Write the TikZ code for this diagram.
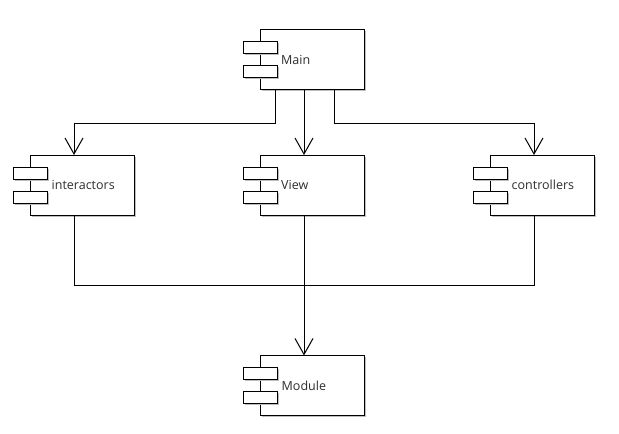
\documentclass[tikz,border=0pt]{standalone}
\usepackage{fontspec}
\setmainfont{Open Sans}
\usetikzlibrary{arrows.meta,calc}

\definecolor{labeltext}{HTML}{2E2E2E}
\definecolor{shade}{HTML}{BDBDBD}

\tikzset{
  comp/.style={minimum width=121pt, minimum height=60pt, inner sep=0pt, outer sep=0pt},
  body/.style={draw=black, fill=white, line width=1pt},
  tab/.style={draw=black, fill=white, line width=1pt},
  shadowbox/.style={fill=shade, draw=none},
  complabel/.style={anchor=west, inner sep=0pt, text=labeltext, font=\fontsize{12.5}{14}\selectfont},
  conn/.style={draw=black, line width=1pt},
  dep/.style={conn, -{Straight Barb[length=16pt, width=18pt, line width=1pt]}},
}

% UML component: box with two tabs on its left side
\newcommand{\umlcomp}[4]{%
  \node[comp] (#1) at (#2,#3) {};
  \fill[shadowbox] ($(#1.north west)+(18.5,1.5)$) rectangle ($(#1.south east)+(1.5,1.5)$);
  \draw[body] ($(#1.north west)+(17,0)$) rectangle (#1.south east);
  \fill[shadowbox] ($(#1.west)+(1.5,-16.5)$) rectangle ($(#1.west)+(35.5,-4.5)$);
  \fill[shadowbox] ($(#1.west)+(1.5,7.5)$) rectangle ($(#1.west)+(35.5,19.5)$);
  \draw[tab] ($(#1.west)+(0,-18)$) rectangle ($(#1.west)+(34,-6)$);
  \draw[tab] ($(#1.west)+(0,6)$) rectangle ($(#1.west)+(34,18)$);
  \node[complabel] (#1-label) at ($(#1.west)+(38,0)$) {#4};
}

\begin{document}
\begin{tikzpicture}[x=1pt, y=-1pt]
  \useasboundingbox[fill=white] (0,0) rectangle (619,434);

  \umlcomp{main}{303.5}{59.5}{Main}
  \umlcomp{interactors}{74}{185}{interactors}
  \umlcomp{view}{303.5}{185}{View}
  \umlcomp{controllers}{534}{185}{controllers}
  \umlcomp{module}{304}{385.5}{Module}

  % dependencies from Main
  \draw[dep] ([xshift=-28.5]main.south) -- ++(0,34) -| (interactors.north);
  \draw[dep] ([xshift=0.5]main.south) -- ([xshift=0.5]view.north);
  \draw[dep] ([xshift=30.5]main.south) -- ++(0,34) -| (controllers.north);

  % shared bus towards Module
  \draw[conn] (interactors.south) -- ++(0,70) -| (controllers.south);
  \draw[dep] ([xshift=0.5]view.south) -- (module.north);
\end{tikzpicture}
\end{document}
